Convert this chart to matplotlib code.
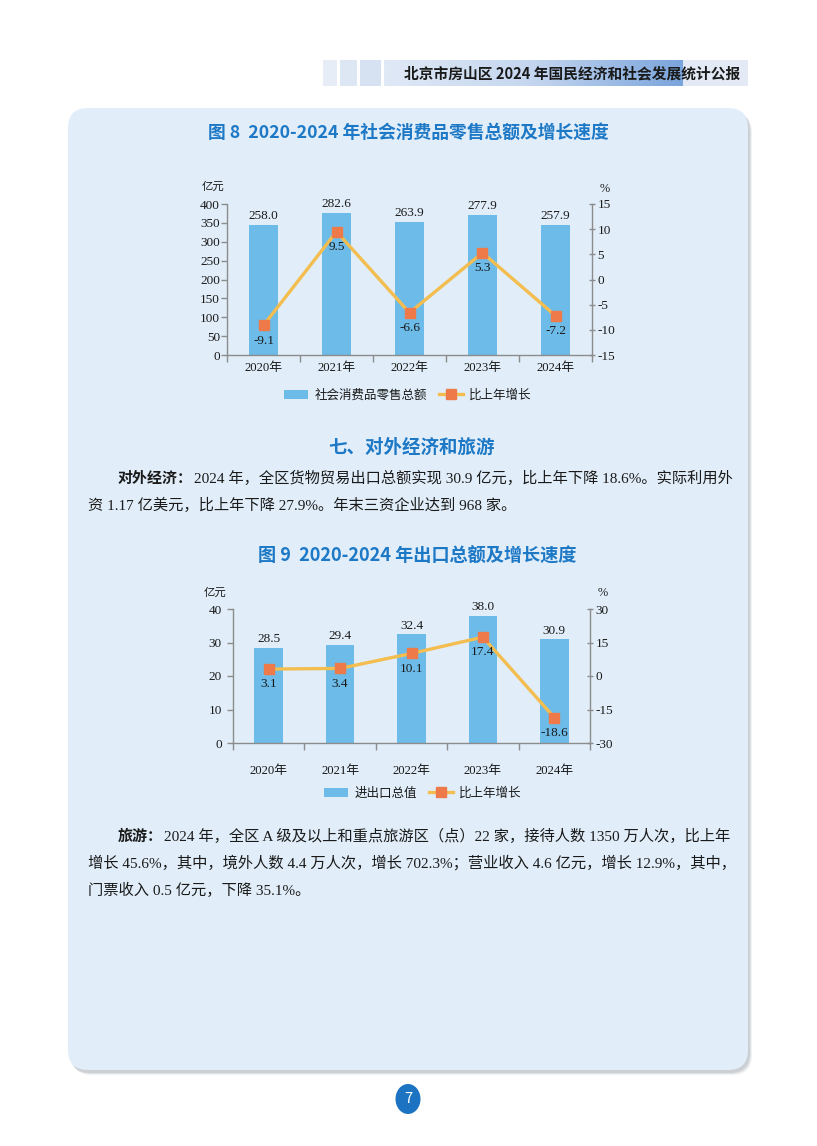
import matplotlib
matplotlib.use('Agg')
import matplotlib.pyplot as plt
import numpy as np
from matplotlib.patches import FancyBboxPatch, Rectangle, Ellipse, Patch
from matplotlib.lines import Line2D
from matplotlib.colors import LinearSegmentedColormap

# ---------------- data ----------------
years = ['2020年', '2021年', '2022年', '2023年', '2024年']
retail_sales = [258.0, 282.6, 263.9, 277.9, 257.9]       # 亿元
retail_growth = [-9.1, 9.5, -6.6, 5.3, -7.2]             # %
export_total = [28.5, 29.4, 32.4, 38.0, 30.9]            # 亿元
export_growth = [3.1, 3.4, 10.1, 17.4, -18.6]            # %

SERIF = ['Liberation Serif', 'Noto Sans CJK SC']
SANS = ['Noto Sans CJK SC', 'DejaVu Sans']
plt.rcParams['font.family'] = SERIF
plt.rcParams['axes.unicode_minus'] = False

W, H = 817, 1146
fig = plt.figure(figsize=(W / 100, H / 100), dpi=100)
fig.patch.set_facecolor('white')

bg = fig.add_axes([0, 0, 1, 1])
bg.set_xlim(0, W)
bg.set_ylim(H, 0)
bg.axis('off')
bg.set_zorder(0)

BLUE = '#1d78c6'
PANEL = '#e1eef9'
BAR = '#6cbbe9'
LINE = '#f3bd50'
MARK = '#ee7a4a'
AXC = '#8c8c8c'
TXT = '#1a1a1a'

# ---------------- header ----------------
for (x0, x1, c) in [(323, 337, '#e6edf7'), (340, 357, '#dde7f4'), (360, 381, '#d6e2f2')]:
    bg.add_patch(Rectangle((x0, 60), x1 - x0, 26, fc=c, ec='none'))
grad = np.linspace(0, 1, 256)[None, :]
cm = LinearSegmentedColormap.from_list('h', ['#e0e9f6', '#c4d6ef', '#7aa4dc'])
bg.imshow(grad, cmap=cm, extent=(384, 683, 86, 60), aspect='auto', zorder=1)
bg.add_patch(Rectangle((683, 60), 65, 26, fc='#e3eaf5', ec='none', zorder=1))
bg.text(572, 73, '北京市房山区 2024 年国民经济和社会发展统计公报', family=SANS,
        weight='bold', size=10.6, color=TXT, ha='center', va='center', zorder=3)
bg.set_xlim(0, W)
bg.set_ylim(H, 0)

# ---------------- panel ----------------
for i, a in enumerate([0.10, 0.14, 0.20]):
    d = 4 - i
    bg.add_patch(FancyBboxPatch((68 + d, 108 + d + 1), 680, 962,
                                boxstyle='round,pad=0,rounding_size=20',
                                fc='#7d8894', ec='none', alpha=a, zorder=1))
bg.add_patch(FancyBboxPatch((68, 108), 680, 962, boxstyle='round,pad=0,rounding_size=20',
                            fc=PANEL, ec='none', zorder=2))

# ---------------- titles & text ----------------
bg.text(408, 133, '图 8  2020-2024 年社会消费品零售总额及增长速度', family=SANS,
        weight='bold', size=12.8, color=BLUE, ha='center', va='center', zorder=3)
bg.text(411, 447, '七、对外经济和旅游', family=SANS, weight='bold', size=13.3,
        color=BLUE, ha='center', va='center', zorder=3)
bg.text(417, 556, '图 9  2020-2024 年出口总额及增长速度', family=SANS,
        weight='bold', size=13.1, color=BLUE, ha='center', va='center', zorder=3)

renderer = fig.canvas.get_renderer()
PS = 11.0


def para(x, y, bold, rest):
    if bold:
        t = bg.text(x, y, bold, family=SANS, weight='bold', size=PS - 0.2, color=TXT,
                    ha='left', va='center', zorder=3)
        bb = t.get_window_extent(renderer)
        x = bb.x1 + 1
    bg.text(x, y, rest, family=SERIF, size=PS, color=TXT, ha='left', va='center', zorder=3)


para(118, 478, '对外经济：', '2024 年，全区货物贸易出口总额实现 30.9 亿元，比上年下降 18.6%。实际利用外')
para(88, 505, None, '资 1.17 亿美元，比上年下降 27.9%。年末三资企业达到 968 家。')
para(118, 836, '旅游：', '2024 年，全区 A 级及以上和重点旅游区（点）22 家，接待人数 1350 万人次，比上年')
para(88, 863, None, '增长 45.6%，其中，境外人数 4.4 万人次，增长 702.3%；营业收入 4.6 亿元，增长 12.9%，其中，')
para(88, 890, None, '门票收入 0.5 亿元，下降 35.1%。')

# page number
bg.add_patch(Ellipse((408, 1099), 25, 30, fc='#1b73c2', ec='none', zorder=3))
bg.text(408, 1099, '7', family=SANS, size=10.5, color='white', ha='center', va='center', zorder=4)


def rect(l, t, r, b):
    return [l / W, 1 - b / H, (r - l) / W, (b - t) / H]


def chart(box, vals, growth, bar_scale, lticks, rlim, rticks, xpad, lpad, rpad,
          unit_xy, pct_xy, leg_xy, bar_name):
    pos = rect(*box)
    x = np.arange(len(years))
    # bars (drawn against their own value scale, as in the reference)
    axb = fig.add_axes(pos)
    axb.set_zorder(2)
    axb.patch.set_alpha(0)
    axb.set_xlim(-0.5, len(years) - 0.5)
    axb.set_ylim(0, bar_scale)
    axb.axis('off')
    axb.bar(x, vals, width=0.4, color=BAR, zorder=2)
    for i, v in enumerate(vals):
        axb.annotate(f'{v:.1f}', (i, v), xytext=(0, 2), textcoords='offset points',
                     ha='center', va='bottom', size=9.5, color=TXT, family=SERIF)

    ax = fig.add_axes(pos)
    ax.set_zorder(3)
    ax.patch.set_alpha(0)
    ax.set_xlim(-0.5, len(years) - 0.5)
    ax.set_ylim(lticks[0], lticks[-1])
    ax.set_yticks(lticks)
    for s in ['top', 'right']:
        ax.spines[s].set_visible(False)
    for s in ['left', 'bottom']:
        ax.spines[s].set_color(AXC)
        ax.spines[s].set_linewidth(1.0)
    ax.set_xticks(np.arange(-0.5, len(years), 1))
    ax.set_xticklabels([])
    ax.set_xticks(x, minor=True)
    ax.set_xticklabels(years, minor=True)
    ax.tick_params(axis='x', which='major', length=5, width=1.0, color=AXC, direction='out')
    ax.tick_params(axis='x', which='minor', length=0, pad=xpad, labelsize=9.2, labelcolor=TXT)
    ax.tick_params(axis='y', length=4, width=1.0, color=AXC, direction='out', pad=lpad,
                   labelsize=9.5, labelcolor=TXT)

    ax2 = ax.twinx()
    ax2.set_zorder(4)
    ax2.patch.set_alpha(0)
    ax2.set_ylim(*rlim)
    ax2.set_yticks(rticks)
    for s in ['top', 'left', 'bottom']:
        ax2.spines[s].set_visible(False)
    ax2.spines['right'].set_color(AXC)
    ax2.spines['right'].set_linewidth(1.0)
    ax2.tick_params(axis='y', length=4, width=1.0, color=AXC, direction='inout', pad=rpad,
                    labelsize=9.5, labelcolor=TXT)
    ax2.plot(x, growth, color=LINE, lw=2.4, marker='s', markersize=7,
             markerfacecolor=MARK, markeredgecolor=MARK, zorder=5)
    for i, g in enumerate(growth):
        ax2.annotate(f'{g:.1f}', (i, g), xytext=(0, -11), textcoords='offset points',
                     ha='center', va='center', size=9.5, color=TXT, family=SERIF, zorder=6)

    bg.text(unit_xy[0], unit_xy[1], '亿元', family=SANS, size=8.2, color=TXT,
            ha='center', va='center', zorder=3)
    bg.text(pct_xy[0], pct_xy[1], '%', family=SERIF, size=8.8, color=TXT,
            ha='center', va='center', zorder=3)

    handles = [Patch(facecolor=BAR, edgecolor='none', label=bar_name),
               Line2D([0], [0], color=LINE, lw=2.4, marker='s', markersize=6.5,
                      markerfacecolor=MARK, markeredgecolor=MARK, label='比上年增长')]
    leg = fig.legend(handles=handles, loc='center',
                     bbox_to_anchor=(leg_xy[0] / W, 1 - leg_xy[1] / H), ncol=2,
                     frameon=False, prop={'family': SANS, 'size': 9.0},
                     handlelength=1.9, handleheight=0.75, columnspacing=1.0,
                     handletextpad=0.5)
    for t in leg.get_texts():
        t.set_color(TXT)


chart((227, 204, 592, 355), retail_sales, retail_growth, 300,
      list(range(0, 401, 50)), (-15, 15), list(range(-15, 16, 5)),
      xpad=5, lpad=1, rpad=2, unit_xy=(213, 187), pct_xy=(605, 189),
      leg_xy=(408, 395), bar_name='社会消费品零售总额')

chart((233, 609, 590, 743), export_total, export_growth, 40,
      list(range(0, 41, 10)), (-30, 30), list(range(-30, 31, 15)),
      xpad=16, lpad=4, rpad=2, unit_xy=(215, 593), pct_xy=(603, 593),
      leg_xy=(423, 793), bar_name='进出口总值')

fig.savefig('out.png', dpi=100, facecolor='white')
